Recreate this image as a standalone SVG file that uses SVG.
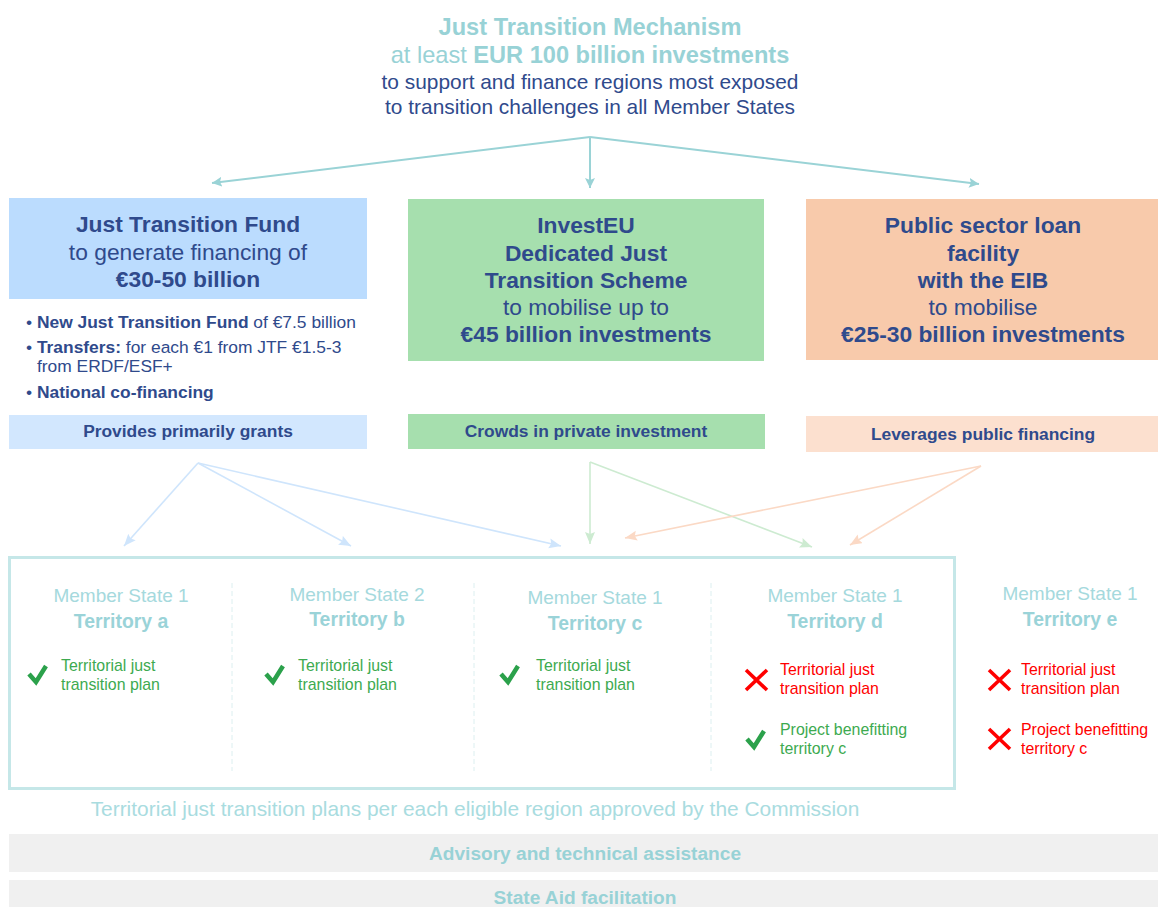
<svg xmlns="http://www.w3.org/2000/svg" width="1158" height="907" viewBox="0 0 1158 907">
<defs>
<marker id="aT" markerWidth="12" markerHeight="12" refX="10" refY="5" orient="auto" markerUnits="userSpaceOnUse"><path d="M0,0L10,5L0,10L2,5Z" fill="#9AD3D6"/></marker>
<marker id="aB" markerWidth="14" markerHeight="12" refX="12" refY="5" orient="auto" markerUnits="userSpaceOnUse"><path d="M0,0L12,5L0,10L2,5Z" fill="#CFE5FC"/></marker>
<marker id="aG" markerWidth="14" markerHeight="12" refX="12" refY="5" orient="auto" markerUnits="userSpaceOnUse"><path d="M0,0L12,5L0,10L2,5Z" fill="#CDEBD1"/></marker>
<marker id="aO" markerWidth="14" markerHeight="12" refX="12" refY="5" orient="auto" markerUnits="userSpaceOnUse"><path d="M0,0L12,5L0,10L2,5Z" fill="#FBD9C5"/></marker>
</defs>
<style>
text{font-family:"Liberation Sans",Arial,sans-serif}
.c{text-anchor:middle}
.b{font-weight:700}
.n{fill:#2F4A8C}
.t{fill:#98D2D6}
.h{font-size:22.8px}
.l{font-size:17.4px}
.ms{font-size:19px;fill:#A5D9DD}
.tr{font-size:19.4px;font-weight:700;fill:#9AD3D8}
.s{font-size:15.9px}
.g{fill:#3DAA50}
.r{fill:#FF0000}
.ck{fill:none;stroke:#2BA14B;stroke-width:4.5;stroke-linejoin:miter}
.x{fill:none;stroke:#FF0000;stroke-width:3.6}
.dv{stroke:#DCEFF0;stroke-width:1;stroke-dasharray:5 3}
</style>
<rect width="1158" height="907" fill="#FFFFFF"/>
<g id="title">
<text x="590" y="35" class="c b t" font-size="23.6">Just Transition Mechanism</text>
<text x="590" y="63" class="c t" font-size="23.6">at least <tspan class="b">EUR 100 billion investments</tspan></text>
<text x="590" y="89" class="c n" font-size="20.9">to support and finance regions most exposed</text>
<text x="590" y="114" class="c n" font-size="20.9">to transition challenges in all Member States</text>
</g>
<g id="connectors" fill="none">
<g stroke="#9AD3D6" stroke-width="2">
<path d="M590,137L212,183" marker-end="url(#aT)"/>
<path d="M590,137V188" marker-end="url(#aT)"/>
<path d="M590,137L979,184" marker-end="url(#aT)"/>
</g>
<g stroke="#CFE5FC" stroke-width="1.6">
<path d="M198,463L124,546" marker-end="url(#aB)"/>
<path d="M198,463L351,546" marker-end="url(#aB)"/>
<path d="M198,463L561,546" marker-end="url(#aB)"/>
</g>
<g stroke="#CDEBD1" stroke-width="1.6">
<path d="M590,462V544" marker-end="url(#aG)"/>
<path d="M590,462L812,547" marker-end="url(#aG)"/>
</g>
<g stroke="#FBD9C5" stroke-width="1.6">
<path d="M981,466L625,538" marker-end="url(#aO)"/>
<path d="M981,466L850,545" marker-end="url(#aO)"/>
</g>
</g>
<g id="fund">
<rect x="9" y="198" width="358" height="101" fill="#BBDCFE"/>
<text x="188" y="232" class="c b n h">Just Transition Fund</text>
<text x="188" y="260" class="c n h">to generate financing of</text>
<text x="188" y="287" class="c b n h">€30-50 billion</text>
</g>
<g id="fund-list">
<text x="26" y="328" class="l n">• <tspan class="b">New Just Transition Fund</tspan> of €7.5 billion</text>
<text x="26" y="353" class="l n">• <tspan class="b">Transfers:</tspan> for each €1 from JTF €1.5-3</text>
<text x="37" y="372" class="l n">from ERDF/ESF+</text>
<text x="26" y="398" class="l n">• <tspan class="b">National co-financing</tspan></text>
</g>
<g id="fund-bar">
<rect x="9" y="415" width="358" height="34" fill="#D2E7FE"/>
<text x="188" y="437" class="c b n l">Provides primarily grants</text>
</g>
<g id="investeu">
<rect x="408" y="199" width="356" height="162" fill="#A6DFAE"/>
<text x="586" y="233" class="c b n h">InvestEU</text>
<text x="586" y="261" class="c b n h">Dedicated Just</text>
<text x="586" y="288" class="c b n h">Transition Scheme</text>
<text x="586" y="315" class="c n h">to mobilise up to</text>
<text x="586" y="342" class="c b n h">€45 billion investments</text>
</g>
<g id="investeu-bar">
<rect x="408" y="414" width="357" height="35" fill="#A6DFAE"/>
<text x="586" y="437" class="c b n l">Crowds in private investment</text>
</g>
<g id="loan">
<rect x="806" y="199" width="352" height="161" fill="#F8CAAB"/>
<text x="983" y="233" class="c b n h">Public sector loan</text>
<text x="983" y="261" class="c b n h">facility</text>
<text x="983" y="288" class="c b n h">with the EIB</text>
<text x="983" y="315" class="c n h">to mobilise</text>
<text x="983" y="342" class="c b n h">€25-30 billion investments</text>
</g>
<g id="loan-bar">
<rect x="806" y="416" width="352" height="36" fill="#FCE0CF"/>
<text x="983" y="440" class="c b n l">Leverages public financing</text>
</g>
<g id="states-frame">
<rect x="9.5" y="557.5" width="945" height="231" fill="none" stroke="#C5E7E8" stroke-width="3"/>
<path class="dv" d="M232,583V771M474,583V771M711,583V771"/>
</g>
<g id="territory-a">
<text x="121" y="602" class="c ms">Member State 1</text>
<text x="121" y="628" class="c tr">Territory a</text>
<path class="ck" d="M29,674L36,682L46,666"/>
<text x="61" y="671" class="s g">Territorial just</text>
<text x="61" y="690" class="s g">transition plan</text>
</g>
<g id="territory-b">
<text x="357" y="601" class="c ms">Member State 2</text>
<text x="357" y="626" class="c tr">Territory b</text>
<path class="ck" d="M266,674L273,682L283,666"/>
<text x="298" y="671" class="s g">Territorial just</text>
<text x="298" y="690" class="s g">transition plan</text>
</g>
<g id="territory-c">
<text x="595" y="604" class="c ms">Member State 1</text>
<text x="595" y="630" class="c tr">Territory c</text>
<path class="ck" d="M501,674L508,682L518,666"/>
<text x="536" y="671" class="s g">Territorial just</text>
<text x="536" y="690" class="s g">transition plan</text>
</g>
<g id="territory-d">
<text x="835" y="602" class="c ms">Member State 1</text>
<text x="835" y="628" class="c tr">Territory d</text>
<path class="x" d="M746,670L767,690M767,670L746,690"/>
<text x="780" y="675" class="s r">Territorial just</text>
<text x="780" y="694" class="s r">transition plan</text>
<path class="ck" d="M747,739L754,747L764,731"/>
<text x="780" y="735" class="s g">Project benefitting</text>
<text x="780" y="754" class="s g">territory c</text>
</g>
<g id="territory-e">
<text x="1070" y="600" class="c ms">Member State 1</text>
<text x="1070" y="626" class="c tr">Territory e</text>
<path class="x" d="M989,670L1010,690M1010,670L989,690"/>
<text x="1021" y="675" class="s r">Territorial just</text>
<text x="1021" y="694" class="s r">transition plan</text>
<path class="x" d="M989,729L1010,749M1010,729L989,749"/>
<text x="1021" y="735" class="s r">Project benefitting</text>
<text x="1021" y="754" class="s r">territory c</text>
</g>
<g id="footer">
<text x="475" y="816" class="c" font-size="20.9" fill="#A9DCDF">Territorial just transition plans per each eligible region approved by the Commission</text>
<rect x="9" y="834" width="1149" height="38" fill="#F0F0F0"/>
<text x="585" y="860" class="c b t" font-size="19.1">Advisory and technical assistance</text>
<rect x="9" y="880" width="1149" height="27" fill="#F0F0F0"/>
<text x="585" y="904" class="c b t" font-size="19.1">State Aid facilitation</text>
</g>
</svg>
